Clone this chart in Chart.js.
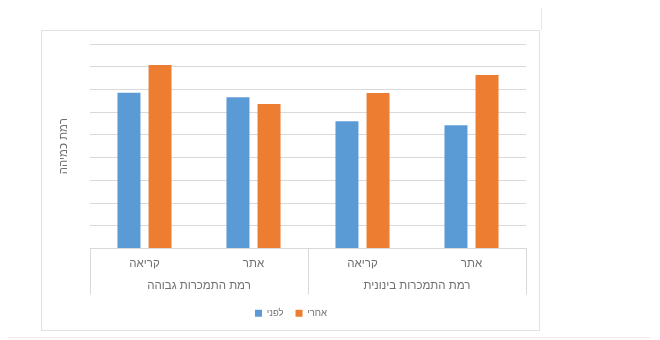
<!DOCTYPE html>
<html lang="he">
<head>
<meta charset="utf-8">
<title>רמת כמיהה</title>
<script src="https://cdn.jsdelivr.net/npm/chart.js@4"></script>
<style>
    html, body { margin: 0; padding: 0; background: #fff; }
    body { width: 660px; height: 340px; position: relative; overflow: hidden; }
    .frame {
        position: absolute; left: 41px; top: 30px; width: 499px; height: 301px;
        box-sizing: border-box; border: 1px solid #e2e2e2; background: #fff;
    }
    .page-edge { position: absolute; left: 541px; top: 8px; width: 1px; height: 22px; background: #e6e6e6; }
    .page-bottom { position: absolute; left: 8px; top: 337px; width: 642px; height: 1px; background: #ececec; }
</style>
</head>
<body>
<div class="page-edge"></div>
<div class="frame"><canvas id="cravingChart"></canvas></div>
<div class="page-bottom"></div>
<script>
    // categories and groups on the x axis
    var categories = ['קריאה', 'אתר', 'קריאה', 'אתר'];
    var groups = ['רמת התמכרות גבוהה', 'רמת התמכרות בינונית'];

    // series values
    var before = [3.43, 3.33, 2.80, 2.71];
    var after = [4.04, 3.18, 3.42, 3.82];

    var yMax = 4.5;
    var yStep = 0.5;

    var textColor = '#707070';
    var lineColor = '#d9d9d9';
    var font = { family: '"Liberation Sans", Arial, sans-serif', size: 11.5 };
    var legendFont = { family: '"Liberation Sans", Arial, sans-serif', size: 9.5 };

    // vertical separators between the group labels under the axis
    var groupSeparators = {
        id: 'groupSeparators',
        afterDraw: function(chart) {
            var x = chart.scales.x;
            var x2 = chart.scales.x2;
            var ctx = chart.ctx;
            var half = categories.length / 2;
            var mid = (x.getPixelForValue(half - 1) + x.getPixelForValue(half)) / 2;
            var top = chart.chartArea.bottom;
            ctx.save();
            ctx.strokeStyle = lineColor;
            ctx.lineWidth = 1;
            [x.left, mid, x.right].forEach(function(px) {
                px = Math.round(px) + 0.5;
                ctx.beginPath();
                ctx.moveTo(px, top);
                ctx.lineTo(px, x2.bottom - 2);
                ctx.stroke();
            });
            ctx.restore();
        }
    };

    var ctx = document.getElementById('cravingChart').getContext('2d');
    var cravingChart = new Chart(ctx, {
        type: 'bar',
        data: {
            labels: categories,
            datasets: [{
                label: 'לפני',
                data: before,
                backgroundColor: '#5b9bd5'
            }, {
                label: 'אחרי',
                data: after,
                backgroundColor: '#ed7d31'
            }]
        },
        options: {
            responsive: true,
            maintainAspectRatio: false,
            animation: false,
            categoryPercentage: 0.57,
            barPercentage: 0.74,
            layout: {
                padding: { left: 14, right: 13, top: 13, bottom: 2 }
            },
            plugins: {
                tooltip: { enabled: false },
                legend: {
                    position: 'bottom',
                    labels: {
                        boxWidth: 7,
                        boxHeight: 7,
                        padding: 12,
                        color: textColor,
                        font: legendFont
                    }
                }
            },
            scales: {
                x: {
                    grid: { display: false },
                    border: { display: true, color: lineColor },
                    ticks: { color: textColor, font: font, padding: 0, maxRotation: 0 },
                    afterFit: function(scale) { scale.height = 20; }
                },
                x2: {
                    type: 'category',
                    labels: groups,
                    position: 'bottom',
                    offset: true,
                    weight: 1,
                    grid: { display: false },
                    border: { display: false },
                    ticks: { color: textColor, font: font, padding: 2, maxRotation: 0 },
                    afterFit: function(scale) { scale.height = 28; }
                },
                y: {
                    min: 0,
                    max: yMax,
                    ticks: { display: false, stepSize: yStep },
                    grid: { color: lineColor, drawTicks: false },
                    border: { display: false },
                    title: {
                        display: true,
                        text: 'רמת כמיהה',
                        color: textColor,
                        font: font,
                        padding: { top: 1, bottom: 0 }
                    },
                    afterFit: function(scale) { scale.width = 34; }
                }
            }
        },
        plugins: [groupSeparators]
    });
</script>
</body>
</html>
